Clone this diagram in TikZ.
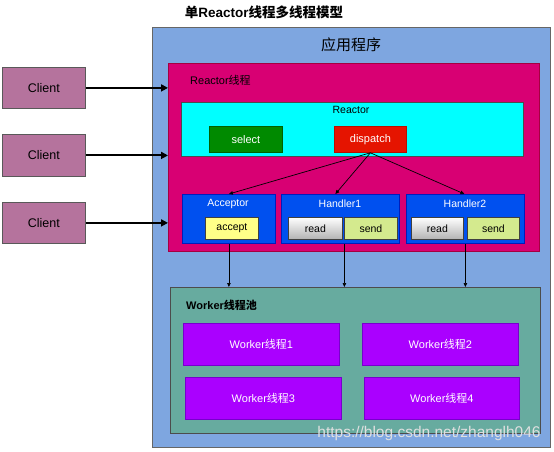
\documentclass[tikz,border=0pt]{standalone}
\usepackage{fontspec}
\setmainfont{Liberation Sans}
\newfontfamily\cjk{Noto Sans CJK SC}
\usetikzlibrary{arrows.meta}
\definecolor{appblue}{HTML}{7EA6E0}
\definecolor{rmag}{HTML}{D80073}
\definecolor{rmagd}{HTML}{A50040}
\definecolor{rcyan}{HTML}{00FFFF}
\definecolor{selg}{HTML}{008A00}
\definecolor{dispr}{HTML}{E51400}
\definecolor{hblue}{HTML}{0050EF}
\definecolor{hblued}{HTML}{001DBC}
\definecolor{accy}{HTML}{FFFF88}
\definecolor{sendg}{HTML}{D4EA8E}
\definecolor{poolg}{HTML}{67AB9F}
\definecolor{wpur}{HTML}{AA00FF}
\definecolor{wpurd}{HTML}{7700CC}
\definecolor{clientc}{HTML}{B5739D}
\tikzset{
  bx/.style={draw, anchor=north west, inner sep=0pt, line width=0.8pt},
  lbl/.style={inner sep=0pt, font=\fontsize{10.5}{12}\selectfont},
  wlbl/.style={lbl, text=white},
  clientbox/.style={bx, fill=clientc, draw=black!65, font=\fontsize{12.5}{14}\selectfont},
  workerbox/.style={bx, fill=wpur, draw=wpurd, text=white, font=\fontsize{11}{13}\selectfont},
  smallbox/.style={bx, draw=black!75, font=\fontsize{10.5}{12}\selectfont},
  readbox/.style={smallbox, top color=white, bottom color=black!30},
  sendbox/.style={smallbox, fill=sendg},
  handlerbox/.style={bx, fill=hblue, draw=hblued},
  bigarrow/.style={-{Triangle[length=7pt,width=7pt]}, line width=2pt},
  smallarrow/.style={-{Triangle[length=4pt,width=3.5pt]}, line width=0.7pt},
}
\begin{document}
\begin{tikzpicture}[x=1pt,y=-1pt]
\useasboundingbox (0,0) rectangle (554,452);
% title
\node[inner sep=0pt, font=\fontsize{13.5}{15}\selectfont\bfseries] (title) at (264,12) {{\cjk 单}Reactor{\cjk 线程多线程模型}};
% application box
\node[bx, fill=appblue, draw=black!60, minimum width=398pt, minimum height=420pt] (app) at (152,27) {};
\node[inner sep=0pt, font=\fontsize{15}{17}\selectfont\cjk] (apptitle) at (351,45) {应用程序};
% reactor thread
\node[bx, fill=rmag, draw=rmagd, minimum width=371pt, minimum height=188pt] (rthread) at (168,63) {};
\node[lbl, anchor=west, font=\fontsize{11}{12}\selectfont] (rtlabel) at (190,80) {Reactor{\cjk 线程}};
% reactor
\node[bx, fill=rcyan, draw=black!70, minimum width=342pt, minimum height=54pt] (reactor) at (181,102) {};
\node[lbl] (reactorlbl) at (351,110) {Reactor};
\node[bx, fill=selg, draw=selg!70!black, minimum width=73pt, minimum height=26pt, text=white, font=\fontsize{11}{12}\selectfont] (select) at (209,126) {select};
\node[bx, fill=dispr, draw=dispr!80!black, minimum width=72pt, minimum height=26pt, text=white, font=\fontsize{11}{12}\selectfont] (dispatch) at (334,126) {dispatch};
% acceptor and handlers
\node[handlerbox, minimum width=93pt, minimum height=49pt] (acceptor) at (182,194) {};
\node[wlbl] (acclbl) at (228,204) {Acceptor};
\node[handlerbox, minimum width=118pt, minimum height=49pt] (handler1) at (281,194) {};
\node[wlbl] (h1lbl) at (340,204) {Handler1};
\node[handlerbox, minimum width=118pt, minimum height=49pt] (handler2) at (406,194) {};
\node[wlbl] (h2lbl) at (465,204) {Handler2};
\node[smallbox, fill=accy, minimum width=53pt, minimum height=22pt] (accept) at (205,217) {accept};
\node[readbox, minimum width=54pt, minimum height=22pt] (read1) at (288,217) {read};
\node[sendbox, minimum width=53pt, minimum height=22pt] (send1) at (344,217) {send};
\node[readbox, minimum width=52pt, minimum height=22pt] (read2) at (411,217) {read};
\node[sendbox, minimum width=52pt, minimum height=22pt] (send2) at (467,217) {send};
% worker pool
\node[bx, fill=poolg, draw=black!70, minimum width=370pt, minimum height=146pt] (pool) at (170,287) {};
\node[lbl, anchor=west, font=\fontsize{11}{13}\selectfont\bfseries] (poollbl) at (186,305) {Worker{\cjk 线程池}};
\node[workerbox, minimum width=156pt, minimum height=42pt] (w1) at (183,323) {Worker{\cjk 线程}1};
\node[workerbox, minimum width=156pt, minimum height=42pt] (w2) at (362,323) {Worker{\cjk 线程}2};
\node[workerbox, minimum width=156pt, minimum height=42pt] (w3) at (185,377) {Worker{\cjk 线程}3};
\node[workerbox, minimum width=155pt, minimum height=42pt] (w4) at (364,377) {Worker{\cjk 线程}4};
% clients
\node[clientbox, minimum width=83pt, minimum height=41pt] (c1) at (2,67) {Client};
\node[clientbox, minimum width=83pt, minimum height=42pt] (c2) at (2,134) {Client};
\node[clientbox, minimum width=83pt, minimum height=41pt] (c3) at (2,202) {Client};
% client arrows
\draw[bigarrow] (c1.east) -- (c1.east -| rthread.west);
\draw[bigarrow] (c2.east) -- (c2.east -| rthread.west);
\draw[bigarrow] (c3.east) -- (c3.east -| rthread.west);
% dispatch arrows
\draw[smallarrow] (dispatch.south) -- (acceptor.north);
\draw[smallarrow] (dispatch.south) -- ([xshift=-5pt]handler1.north);
\draw[smallarrow] (dispatch.south) -- ([xshift=-1pt]handler2.north);
% down arrows
\draw[smallarrow] (acceptor.south) -- (acceptor.south |- pool.north);
\draw[smallarrow] ([xshift=4pt]handler1.south) -- ([xshift=4pt]handler1.south |- pool.north);
\draw[smallarrow] (handler2.south) -- (handler2.south |- pool.north);
% watermark
\node[inner sep=0pt, text=black!12, font=\fontsize{15.5}{17}\selectfont] (wm) at (429,433) {https://blog.csdn.net/zhanglh046};
\end{tikzpicture}
\end{document}
